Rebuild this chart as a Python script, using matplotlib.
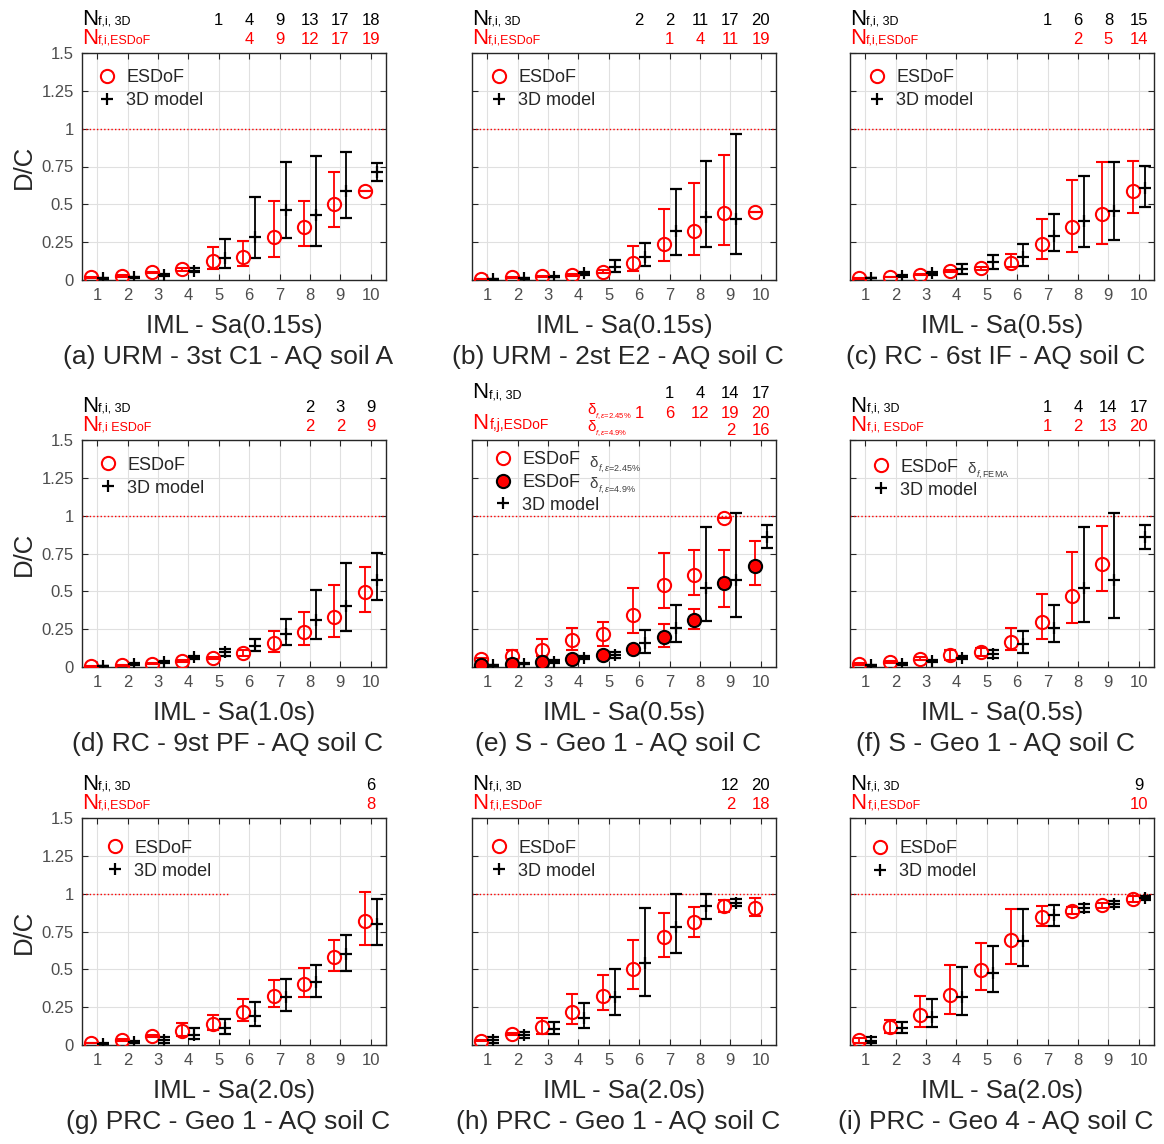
import numpy as np
import matplotlib
matplotlib.use('Agg')
import matplotlib.pyplot as plt
from matplotlib.lines import Line2D
from matplotlib.transforms import blended_transform_factory

plt.rcParams['font.family'] = ['Liberation Sans', 'DejaVu Sans']
plt.rcParams['mathtext.fontset'] = 'custom'
plt.rcParams['mathtext.rm'] = 'Liberation Sans'
plt.rcParams['mathtext.it'] = 'Liberation Sans:italic'

nan = np.nan
IML = np.arange(1, 11)
Y_TICKS = [0, 0.25, 0.5, 0.75, 1, 1.25, 1.5]
Y_TICK_LABELS = ['0', '0.25', '0.5', '0.75', '1', '1.25', '1.5']

# --- (a) URM 3st C1, soil A ---
A_ESDOF = [0.018, 0.026, 0.050, 0.070, 0.123, 0.154, 0.286, 0.348, 0.502, 0.590]
A_ESDOF_LO = [0.016, 0.022, 0.044, 0.062, 0.070, 0.093, 0.154, 0.227, 0.352, 0.590]
A_ESDOF_HI = [0.020, 0.030, 0.056, 0.078, 0.220, 0.255, 0.524, 0.524, 0.716, 0.590]
A_3D = [0.011, 0.018, 0.033, 0.062, 0.143, 0.282, 0.463, 0.430, 0.588, 0.711]
A_3D_LO = [0.009, 0.014, 0.025, 0.050, 0.077, 0.145, 0.275, 0.225, 0.407, 0.656]
A_3D_HI = [0.013, 0.022, 0.041, 0.077, 0.270, 0.546, 0.778, 0.817, 0.846, 0.771]
A_N3D = [0, 0, 0, 0, 1, 4, 9, 13, 17, 18]
A_NESDOF = [0, 0, 0, 0, 0, 4, 9, 12, 17, 19]

# --- (b) URM 2st E2, soil C ---
B_ESDOF = [0.007, 0.018, 0.024, 0.033, 0.055, 0.112, 0.240, 0.326, 0.443, 0.449]
B_ESDOF_LO = [0.005, 0.015, 0.020, 0.028, 0.045, 0.057, 0.123, 0.165, 0.233, 0.449]
B_ESDOF_HI = [0.009, 0.021, 0.028, 0.038, 0.065, 0.222, 0.467, 0.639, 0.828, 0.449]
B_3D = [0.004, 0.011, 0.022, 0.044, 0.084, 0.154, 0.322, 0.414, 0.403, nan]
B_3D_LO = [0.003, 0.009, 0.018, 0.034, 0.050, 0.090, 0.167, 0.216, 0.172, nan]
B_3D_HI = [0.005, 0.013, 0.026, 0.054, 0.132, 0.244, 0.600, 0.789, 0.965, nan]
B_N3D = [0, 0, 0, 0, 0, 2, 2, 11, 17, 20]
B_NESDOF = [0, 0, 0, 0, 0, 0, 1, 4, 11, 19]

# --- (c) RC 6st IF, soil C ---
C_ESDOF = [0.011, 0.020, 0.035, 0.057, 0.077, 0.115, 0.236, 0.348, 0.434, 0.590]
C_ESDOF_LO = [0.009, 0.017, 0.030, 0.050, 0.066, 0.084, 0.139, 0.183, 0.240, 0.443]
C_ESDOF_HI = [0.013, 0.023, 0.040, 0.064, 0.088, 0.172, 0.403, 0.663, 0.782, 0.786]
C_3D = [0.013, 0.026, 0.044, 0.073, 0.117, 0.154, 0.289, 0.392, 0.456, 0.606]
C_3D_LO = [0.011, 0.020, 0.034, 0.040, 0.073, 0.090, 0.189, 0.220, 0.264, 0.485]
C_3D_HI = [0.015, 0.032, 0.054, 0.106, 0.165, 0.238, 0.434, 0.685, 0.782, 0.751]
C_N3D = [0, 0, 0, 0, 0, 0, 1, 6, 8, 15]
C_NESDOF = [0, 0, 0, 0, 0, 0, 0, 2, 5, 14]

# --- (d) RC 9st PF, soil C ---
D_ESDOF = [0.004, 0.011, 0.022, 0.042, 0.062, 0.090, 0.159, 0.231, 0.328, 0.496]
D_ESDOF_LO = [0.003, 0.009, 0.018, 0.036, 0.055, 0.070, 0.101, 0.145, 0.196, 0.366]
D_ESDOF_HI = [0.005, 0.013, 0.026, 0.048, 0.069, 0.110, 0.236, 0.361, 0.540, 0.663]
D_3D = [0.007, 0.020, 0.035, 0.064, 0.097, 0.137, 0.218, 0.313, 0.405, 0.577]
D_3D_LO = [0.005, 0.016, 0.029, 0.053, 0.075, 0.104, 0.145, 0.187, 0.240, 0.445]
D_3D_HI = [0.009, 0.024, 0.041, 0.075, 0.119, 0.183, 0.317, 0.511, 0.685, 0.751]
D_N3D = [0, 0, 0, 0, 0, 0, 0, 2, 3, 9]
D_NESDOF = [0, 0, 0, 0, 0, 0, 0, 2, 2, 9]

# --- (e) S Geo 1, two failure drifts ---
E_ESDOF = [0.051, 0.073, 0.115, 0.177, 0.216, 0.344, 0.543, 0.607, 0.985, nan]
E_ESDOF_LO = [0.040, 0.050, 0.073, 0.113, 0.139, 0.223, 0.389, 0.475, 0.985, nan]
E_ESDOF_HI = [0.060, 0.110, 0.188, 0.260, 0.296, 0.523, 0.755, 0.770, 0.985, nan]
E_ESDOF2 = [0.013, 0.022, 0.033, 0.055, 0.079, 0.117, 0.199, 0.309, 0.554, 0.669]
E_ESDOF2_LO = [0.010, 0.018, 0.028, 0.048, 0.070, 0.105, 0.135, 0.249, 0.395, 0.541]
E_ESDOF2_HI = [0.016, 0.026, 0.038, 0.062, 0.088, 0.129, 0.287, 0.382, 0.770, 0.832]
E_3D = [0.011, 0.022, 0.035, 0.062, 0.079, 0.157, 0.260, 0.525, 0.578, 0.857]
E_3D_LO = [0.009, 0.018, 0.027, 0.052, 0.057, 0.093, 0.166, 0.305, 0.331, 0.784]
E_3D_HI = [0.013, 0.026, 0.043, 0.072, 0.101, 0.243, 0.411, 0.927, 1.020, 0.938]
E_N3D = [0, 0, 0, 0, 0, 0, 1, 4, 14, 17]
E_NESDOF = [0, 0, 0, 0, 0, 1, 6, 12, 19, 20]
E_NESDOF2 = [0, 0, 0, 0, 0, 0, 0, 0, 2, 16]

# --- (f) S Geo 1, FEMA drift ---
F_ESDOF = [0.020, 0.035, 0.055, 0.082, 0.099, 0.168, 0.300, 0.470, 0.682, nan]
F_ESDOF_LO = [0.016, 0.029, 0.045, 0.049, 0.070, 0.110, 0.188, 0.291, 0.500, nan]
F_ESDOF_HI = [0.024, 0.041, 0.065, 0.115, 0.128, 0.258, 0.481, 0.757, 0.932, nan]
F_3D = [0.011, 0.020, 0.038, 0.060, 0.084, 0.150, 0.258, 0.523, 0.576, 0.859]
F_3D_LO = [0.009, 0.016, 0.030, 0.050, 0.058, 0.090, 0.163, 0.300, 0.327, 0.779]
F_3D_HI = [0.013, 0.024, 0.046, 0.070, 0.110, 0.240, 0.408, 0.923, 1.017, 0.936]
F_N3D = [0, 0, 0, 0, 0, 0, 1, 4, 14, 17]
F_NESDOF = [0, 0, 0, 0, 0, 0, 1, 2, 13, 20]

# --- (g) PRC Geo 1 ---
G_ESDOF = [0.013, 0.033, 0.059, 0.095, 0.138, 0.220, 0.325, 0.400, 0.582, 0.820]
G_ESDOF_LO = [0.011, 0.029, 0.052, 0.062, 0.101, 0.156, 0.248, 0.316, 0.488, 0.664]
G_ESDOF_HI = [0.015, 0.037, 0.066, 0.145, 0.198, 0.303, 0.429, 0.508, 0.692, 1.011]
G_3D = [0.009, 0.020, 0.033, 0.064, 0.114, 0.189, 0.314, 0.413, 0.600, 0.798]
G_3D_LO = [0.007, 0.015, 0.013, 0.040, 0.070, 0.123, 0.226, 0.316, 0.490, 0.659]
G_3D_HI = [0.011, 0.025, 0.055, 0.114, 0.171, 0.286, 0.433, 0.527, 0.725, 0.967]
G_N3D = [0, 0, 0, 0, 0, 0, 0, 0, 0, 6]
G_NESDOF = [0, 0, 0, 0, 0, 0, 0, 0, 0, 8]

# --- (h) PRC Geo 1 ---
H_ESDOF = [0.028, 0.074, 0.122, 0.218, 0.325, 0.505, 0.712, 0.810, 0.917, 0.908]
H_ESDOF_LO = [0.024, 0.066, 0.074, 0.142, 0.229, 0.370, 0.582, 0.715, 0.876, 0.850]
H_ESDOF_HI = [0.032, 0.082, 0.181, 0.340, 0.460, 0.691, 0.869, 0.915, 0.959, 0.972]
H_3D = [0.033, 0.065, 0.105, 0.179, 0.318, 0.545, 0.782, 0.917, 0.941, nan]
H_3D_LO = [0.013, 0.044, 0.070, 0.111, 0.198, 0.325, 0.610, 0.832, 0.919, nan]
H_3D_HI = [0.052, 0.087, 0.150, 0.277, 0.501, 0.906, 1.000, 1.000, 0.963, nan]
H_N3D = [0, 0, 0, 0, 0, 0, 0, 0, 12, 20]
H_NESDOF = [0, 0, 0, 0, 0, 0, 0, 0, 2, 18]

# --- (i) PRC Geo 4 ---
I_ESDOF = [0.030, 0.117, 0.197, 0.333, 0.494, 0.695, 0.848, 0.887, 0.922, 0.965]
I_ESDOF_LO = [0.010, 0.080, 0.117, 0.208, 0.361, 0.537, 0.784, 0.866, 0.905, 0.948]
I_ESDOF_HI = [0.045, 0.162, 0.325, 0.530, 0.673, 0.900, 0.918, 0.913, 0.939, 0.982]
I_3D = [0.025, 0.113, 0.188, 0.320, 0.478, 0.686, 0.857, 0.903, 0.933, 0.972]
I_3D_LO = [0.010, 0.078, 0.117, 0.199, 0.348, 0.522, 0.786, 0.879, 0.915, 0.957]
I_3D_HI = [0.050, 0.149, 0.303, 0.513, 0.652, 0.896, 0.926, 0.929, 0.952, 0.987]
I_N3D = [0, 0, 0, 0, 0, 0, 0, 0, 0, 9]
I_NESDOF = [0, 0, 0, 0, 0, 0, 0, 0, 0, 10]

XLABELS = ['IML - Sa(0.15s)', 'IML - Sa(0.15s)', 'IML - Sa(0.5s)',
           'IML - Sa(1.0s)', 'IML - Sa(0.5s)', 'IML - Sa(0.5s)',
           'IML - Sa(2.0s)', 'IML - Sa(2.0s)', 'IML - Sa(2.0s)']
CAPTIONS = ['(a) URM - 3st C1 - AQ soil A', '(b) URM - 2st E2 - AQ soil C',
            '(c) RC - 6st IF - AQ soil C', '(d) RC - 9st PF - AQ soil C',
            '(e) S - Geo 1 - AQ soil C', '(f) S - Geo 1 - AQ soil C',
            '(g) PRC - Geo 1 - AQ soil C', '(h) PRC - Geo 1 - AQ soil C',
            '(i) PRC - Geo 4 - AQ soil C']
ESDOF_SUBS = ['f,i,ESDoF', 'f,i,ESDoF', 'f,i,ESDoF', 'f,i ESDoF', 'f,j,ESDoF',
              'f,i, ESDoF', 'f,i,ESDoF', 'f,i,ESDoF', 'f,i,ESDoF']

panels = [
    dict(esdof=(A_ESDOF, A_ESDOF_LO, A_ESDOF_HI), d3=(A_3D, A_3D_LO, A_3D_HI), n3d=A_N3D, nes=A_NESDOF),
    dict(esdof=(B_ESDOF, B_ESDOF_LO, B_ESDOF_HI), d3=(B_3D, B_3D_LO, B_3D_HI), n3d=B_N3D, nes=B_NESDOF),
    dict(esdof=(C_ESDOF, C_ESDOF_LO, C_ESDOF_HI), d3=(C_3D, C_3D_LO, C_3D_HI), n3d=C_N3D, nes=C_NESDOF),
    dict(esdof=(D_ESDOF, D_ESDOF_LO, D_ESDOF_HI), d3=(D_3D, D_3D_LO, D_3D_HI), n3d=D_N3D, nes=D_NESDOF),
    dict(esdof=(E_ESDOF, E_ESDOF_LO, E_ESDOF_HI), d3=(E_3D, E_3D_LO, E_3D_HI), n3d=E_N3D, nes=E_NESDOF,
         esdof2=(E_ESDOF2, E_ESDOF2_LO, E_ESDOF2_HI), nes2=E_NESDOF2),
    dict(esdof=(F_ESDOF, F_ESDOF_LO, F_ESDOF_HI), d3=(F_3D, F_3D_LO, F_3D_HI), n3d=F_N3D, nes=F_NESDOF),
    dict(esdof=(G_ESDOF, G_ESDOF_LO, G_ESDOF_HI), d3=(G_3D, G_3D_LO, G_3D_HI), n3d=G_N3D, nes=G_NESDOF),
    dict(esdof=(H_ESDOF, H_ESDOF_LO, H_ESDOF_HI), d3=(H_3D, H_3D_LO, H_3D_HI), n3d=H_N3D, nes=H_NESDOF),
    dict(esdof=(I_ESDOF, I_ESDOF_LO, I_ESDOF_HI), d3=(I_3D, I_3D_LO, I_3D_HI), n3d=I_N3D, nes=I_NESDOF),
]

# layout in pixels
W, H = 1164, 1144
COL_LEFT = [82, 472, 850]
ROW_TOP = [53, 440, 818]
AX_W, AX_H = 304, 227
LEGEND_ANCHOR = [(0.054, 0.930), (0.060, 0.930), (0.060, 0.930),
                 (0.057, 0.926), (0.073, 0.952), (0.073, 0.918),
                 (0.080, 0.905), (0.060, 0.905), (0.070, 0.902)]
LIMIT_LINE_END = [10.5, 10.5, 10.5, 10.5, 10.5, 10.5, 5.3, 10.5, 10.5]
DARK = '0.15'
OFFSET = 0.2


def sub_label(ax, x, y, main, sub, color, size=16, sub_size=9, dx=11.5, dy=0):
    ax.text(x, y, main, transform=ax.transAxes, fontsize=size, color=color,
            ha='left', va='baseline')
    ax.annotate(sub, xy=(x, y), xycoords='axes fraction', xytext=(dx, dy),
                textcoords='offset points', fontsize=sub_size, color=color,
                ha='left', va='baseline', annotation_clip=False)


def count_row(ax, counts, y, color):
    tr = blended_transform_factory(ax.transData, ax.transAxes)
    for x, n in zip(IML, counts):
        if n:
            ax.text(x, y, str(n), transform=tr, ha='center', va='baseline',
                    fontsize=12, color=color, clip_on=False)


def bars(ax, x, vals, **kw):
    mid, lo, hi = (np.asarray(v, dtype=float) for v in vals)
    ax.errorbar(x, mid, yerr=[mid - lo, hi - mid], ls='none',
                elinewidth=1.3, capsize=4, capthick=1.3, **kw)


fig = plt.figure(figsize=(W / 100, H / 100), dpi=100)

for k, p in enumerate(panels):
    r, c = divmod(k, 3)
    ax = fig.add_axes([COL_LEFT[c] / W, 1 - (ROW_TOP[r] + AX_H) / H, AX_W / W, AX_H / H])

    ax.plot([0.5, LIMIT_LINE_END[k]], [1, 1], color='red', lw=1.0, ls=(0, (1, 1.6)), zorder=1)

    bars(ax, IML - OFFSET, p['esdof'], fmt='o', ms=9.5, mfc='none', mec='red',
         mew=1.5, ecolor='red', zorder=3)
    if 'esdof2' in p:
        bars(ax, IML - OFFSET, p['esdof2'], fmt='o', ms=9.5, mfc='red', mec='black',
             mew=1.5, ecolor='red', zorder=4)
    bars(ax, IML + OFFSET, p['d3'], fmt='+', ms=9, mec='black', mew=1.6,
         ecolor='black', zorder=3)

    ax.set_xlim(0.5, 10.5)
    ax.set_ylim(0, 1.5)
    ax.set_xticks(IML)
    ax.set_yticks(Y_TICKS)
    if c == 0:
        ax.set_yticklabels(Y_TICK_LABELS)
        ax.text(-0.19, 0.5, 'D/C', transform=ax.transAxes, rotation=90,
                ha='center', va='center', fontsize=18.5, color=DARK)
    else:
        ax.set_yticklabels([])
    ax.tick_params(direction='in', top=True, right=True, length=4, width=0.8,
                   color=DARK, labelcolor='0.3', labelsize=12, pad=6)
    ax.grid(True, color='0.88', lw=0.8)
    ax.set_axisbelow(True)
    for s in ax.spines.values():
        s.set_color(DARK)
        s.set_linewidth(1.0)

    ax.text(0.5, -0.235, XLABELS[k], transform=ax.transAxes, ha='center',
            va='baseline', fontsize=18.5, color=DARK)
    ax.text(0.48, -0.37, CAPTIONS[k], transform=ax.transAxes, ha='center',
            va='baseline', fontsize=19, color=DARK)

    # failure counts above the axes
    if 'esdof2' in p:
        sub_label(ax, 0, 1.185, 'N', 'f,i, 3D', 'black', dx=12.5)
        sub_label(ax, 0, 1.048, 'N', ESDOF_SUBS[k], 'red', sub_size=10, dx=12.5)
        count_row(ax, p['n3d'], 1.185, 'black')
        count_row(ax, p['nes'], 1.097, 'red')
        count_row(ax, p['nes2'], 1.022, 'red')
        sub_label(ax, 0.38, 1.115, 'δ', r'$f,\varepsilon$=2.45%', 'red',
                  size=11, sub_size=5.5, dx=5.5, dy=-3)
        sub_label(ax, 0.38, 1.04, 'δ', r'$f,\varepsilon$=4.9%', 'red',
                  size=11, sub_size=5.5, dx=5.5, dy=-3)
    else:
        spread = 12.5 if k in (5, 7, 8) else 11.5
        sub_label(ax, 0, 1.125, 'N', 'f,i, 3D', 'black', dx=spread)
        sub_label(ax, 0, 1.04, 'N', ESDOF_SUBS[k], 'red', dx=spread)
        count_row(ax, p['n3d'], 1.125, 'black')
        count_row(ax, p['nes'], 1.04, 'red')

    # legend
    h_open = Line2D([], [], ls='none', marker='o', ms=9.5, mfc='none', mec='red', mew=1.5)
    h_fill = Line2D([], [], ls='none', marker='o', ms=9.5, mfc='red', mec='black', mew=1.5)
    h_plus = Line2D([], [], ls='none', marker='+', ms=9, mec='black', mew=1.6)
    if 'esdof2' in p:
        handles, labels = [h_open, h_fill, h_plus], ['ESDoF', 'ESDoF', '3D model']
    else:
        handles, labels = [h_open, h_plus], ['ESDoF', '3D model']
    ax.legend(handles, labels, loc='upper left', bbox_to_anchor=LEGEND_ANCHOR[k],
              frameon=False, fontsize=13, handlelength=1.0, handletextpad=0.55,
              labelspacing=0.33, borderpad=0, borderaxespad=0, labelcolor=DARK)
    if 'esdof2' in p:
        sub_label(ax, 0.387, 0.881, 'δ', r'$f,\varepsilon$=2.45%', '0.25',
                  size=11, sub_size=6.5, dx=6, dy=-3)
        sub_label(ax, 0.387, 0.789, 'δ', r'$f,\varepsilon$=4.9%', '0.25',
                  size=11, sub_size=6.5, dx=6, dy=-3)
    elif k == 5:
        sub_label(ax, 0.387, 0.855, 'δ', r'$f,$FEMA', '0.25',
                  size=11, sub_size=6.5, dx=6, dy=-3)

fig.savefig('out.png', dpi=100)
